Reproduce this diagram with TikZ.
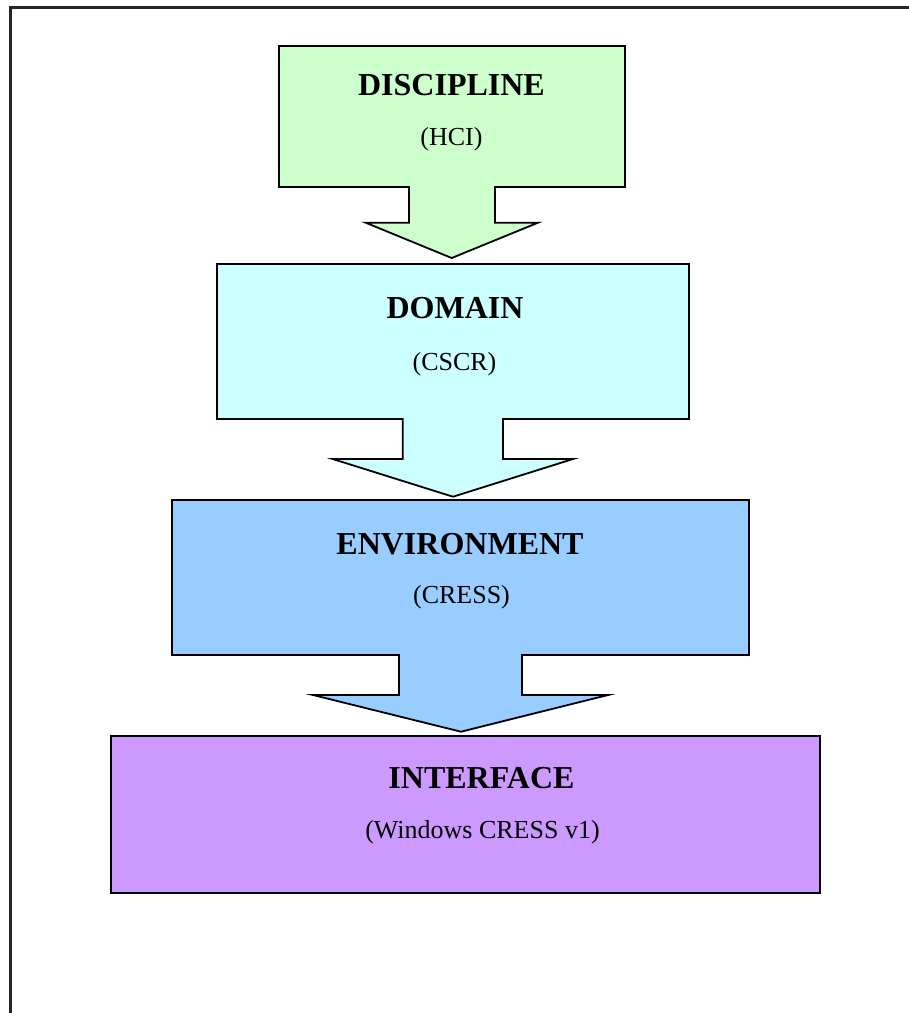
\documentclass[tikz,border=0pt]{standalone}
\usepackage{fontspec}
\setmainfont{Liberation Serif}
\definecolor{cgreen}{HTML}{CCFFCC}
\definecolor{ccyan}{HTML}{CCFFFF}
\definecolor{cblue}{HTML}{99CCFF}
\definecolor{cpurple}{HTML}{CC99FF}
\tikzset{
  blockshape/.style={draw=black, line width=1.8pt, line join=miter},
  frameline/.style={draw=black!85, line width=2.5pt},
  titletext/.style={anchor=base, inner sep=0pt, font=\fontsize{32}{36}\selectfont\bfseries},
  subtext/.style={anchor=base, inner sep=0pt, font=\fontsize{26}{30}\selectfont},
}
\begin{document}
\begin{tikzpicture}[x=1pt, y=-1pt]
\useasboundingbox (0,0) rectangle (909,1013);
% outer frame
\coordinate (fa) at (10.5,1014);
\coordinate (fb) at (10.5,7.5);
\coordinate (fc) at (910,7.5);
\draw[frameline] (fa) -- (fb) -- (fc);
% discipline
\filldraw[blockshape, fill=cgreen] (279,46) -- (625,46) -- (625,187) -- (495,187) -- (495,222.7) -- (538,222.7) -- (451.7,258) -- (365.7,222.7) -- (409,222.7) -- (409,187) -- (279,187) -- cycle;
% domain
\filldraw[blockshape, fill=ccyan] (217,264) -- (689,264) -- (689,419) -- (503,419) -- (503,459) -- (573,459) -- (453,496.7) -- (332.7,459) -- (402.7,459) -- (402.7,419) -- (217,419) -- cycle;
% environment
\filldraw[blockshape, fill=cblue] (172,500) -- (749,500) -- (749,655) -- (522,655) -- (522,695) -- (608,695) -- (461,731.7) -- (313,695) -- (399,695) -- (399,655) -- (172,655) -- cycle;
% interface
\filldraw[blockshape, fill=cpurple] (111,736) rectangle (820,893);
% texts
\node[titletext] (t1) at (451.5,95) {DISCIPLINE};
\node[subtext] (s1) at (451.5,145) {(HCI)};
\node[titletext] (t2) at (455,318.5) {DOMAIN};
\node[subtext] (s2) at (454.5,370) {(CSCR)};
\node[titletext] (t3) at (460,554) {ENVIRONMENT};
\node[subtext] (s3) at (461.5,603) {(CRESS)};
\node[titletext] (t4) at (481.5,788.5) {INTERFACE};
\node[subtext] (s4) at (482.5,838) {(Windows CRESS v1)};
\end{tikzpicture}
\end{document}
